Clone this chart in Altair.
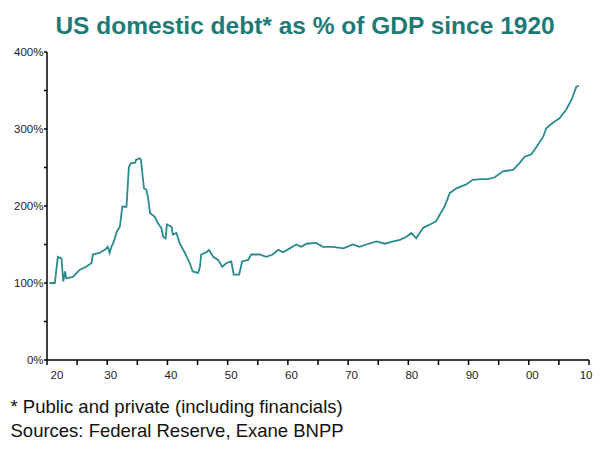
import altair as alt
import pandas as pd

# Data
years = [1920.4, 1921.3, 1921.8, 1922.4, 1922.7, 1923.0, 1923.2, 1924.3, 1925.4, 1926.5,
         1927.4, 1927.6, 1928.7, 1929.6, 1930.1, 1930.4, 1930.7, 1931.2, 1931.6, 1932.1,
         1932.5, 1933.2, 1933.6, 1934.0, 1934.6, 1934.8, 1935.4, 1935.6, 1936.1, 1936.5,
         1936.8, 1937.1, 1937.9, 1938.4, 1939.0, 1939.3, 1939.7, 1939.9, 1940.7, 1940.9,
         1941.5, 1942.0, 1942.9, 1943.7, 1944.2, 1945.1, 1945.4, 1945.6, 1946.5, 1946.9,
         1947.6, 1948.4, 1949.1, 1949.8, 1950.6, 1951.0, 1951.9, 1952.4, 1953.4, 1953.9,
         1955.3, 1956.4, 1957.5, 1958.4, 1959.2, 1960.3, 1961.4, 1962.2, 1963.1, 1964.7,
         1965.8, 1967.5, 1969.2, 1970.8, 1971.9, 1973.0, 1974.7, 1976.1, 1977.5, 1978.6,
         1979.7, 1980.5, 1981.3, 1982.5, 1983.6, 1984.6, 1985.3, 1986.0, 1986.9, 1988.0,
         1989.6, 1990.7, 1992.1, 1993.2, 1994.3, 1995.7, 1997.4, 1998.5, 1999.3, 2000.4,
         2001.3, 2002.4, 2002.9, 2004.0, 2005.1, 2006.2, 2007.1, 2007.9, 2008.3]
debt_pct = [100, 100, 134, 132, 102, 115, 106, 108, 117, 121,
            126, 137, 139, 143, 147, 139, 147, 156, 167, 173,
            199, 199, 251, 256, 256, 260, 262, 260, 223, 221,
            210, 191, 186, 178, 171, 160, 158, 176, 173, 163,
            165, 152, 139, 126, 115, 113, 121, 137, 140, 143,
            134, 130, 121, 126, 128, 111, 111, 128, 130, 137,
            137, 134, 137, 143, 140, 145, 150, 147, 151, 152,
            147, 147, 145, 150, 147, 150, 154, 151, 154, 156,
            160, 165, 158, 172, 176, 180, 190, 199, 217, 223,
            228, 234, 235, 235, 237, 245, 247, 256, 264, 267,
            277, 290, 301, 308, 314, 325, 338, 355, 356]

x_ticks = list(range(1920, 2011, 5))
y_ticks = list(range(0, 401, 50))

title_text = "US domestic debt* as % of GDP since 1920"
footnotes = ["* Public and private (including financials)",
             "Sources: Federal Reserve, Exane BNPP"]

df = pd.DataFrame({"year": years, "debt": debt_pct})
# axis frame (left and bottom lines) built from the tick ranges
frame_df = pd.DataFrame({"year": [x_ticks[0], x_ticks[0], x_ticks[-1]],
                         "debt": [y_ticks[-1], y_ticks[0], y_ticks[0]],
                         "order": [0, 1, 2]})
xtick_df = pd.DataFrame({"year": x_ticks})
ytick_df = pd.DataFrame({"debt": y_ticks})

FONT = "Liberation Sans"
AXIS_COLOR = "#000000"

line = alt.Chart(df).mark_line(color="#2a8b8f", strokeWidth=1.8).encode(
    x=alt.X("year:Q",
            scale=alt.Scale(domain=[1920, 2010], nice=False, zero=False),
            axis=alt.Axis(values=x_ticks, title=footnotes, grid=False, domain=False, ticks=False,
                          labelOverlap=False,
                          labelExpr="(datum.value % 100 < 10 ? '0' : '') + (datum.value % 100)",
                          labelPadding=9, labelOffset=3,
                          titleFont=FONT, titleFontSize=18.5, titleFontWeight="normal",
                          titleColor="#111111", titleAlign="left", titleAnchor="start",
                          titleBaseline="top", titleX=-37, titleY=37, titleLineHeight=24)),
    y=alt.Y("debt:Q",
            scale=alt.Scale(domain=[0, 400], nice=False),
            axis=alt.Axis(values=y_ticks, title=None, grid=False, domain=False, ticks=False,
                          labelOverlap=False,
                          labelExpr="datum.value + '%'", labelPadding=4)),
)

frame = alt.Chart(frame_df).mark_line(color=AXIS_COLOR, strokeWidth=1.5).encode(
    x="year:Q", y="debt:Q", order="order:Q"
)

xticks = alt.Chart(xtick_df).mark_tick(
    orient="vertical", size=5, thickness=1.5, color=AXIS_COLOR, opacity=1
).encode(x="year:Q", y=alt.value(310.5))

yticks = alt.Chart(ytick_df).mark_tick(
    orient="horizontal", size=3, thickness=1.5, color=AXIS_COLOR, opacity=1
).encode(y="debt:Q", x=alt.value(-1.5))

chart = alt.layer(line, frame, xticks, yticks).properties(
    width=542,
    height=308,
    padding={"left": 39, "top": 44, "right": 4, "bottom": 81},
    autosize=alt.AutoSizeParams(type="none"),
    title=alt.TitleParams(title_text, font=FONT, fontSize=24.5, fontWeight="bold",
                          color="#1d7a76", anchor="middle", offset=7, dx=-13),
).configure_view(stroke=None).configure_axis(
    labelFont=FONT, labelFontSize=11.5, labelColor="#222222", labelOverlap=False,
)

chart.save("out.html", embed_options={"renderer": "svg", "actions": False})
